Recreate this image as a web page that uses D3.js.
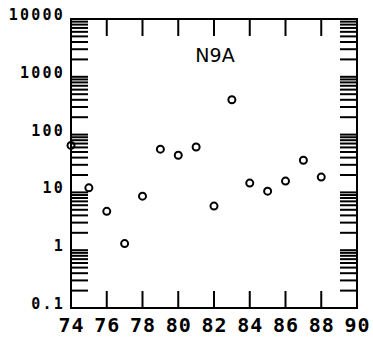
<!DOCTYPE html>
<html><head><meta charset="utf-8">
<script src="https://cdn.jsdelivr.net/npm/d3@7"></script>
<style>body{margin:0;background:#fff}svg{display:block}</style>
</head><body>
<script>
const years = [74,75,76,77,78,79,80,81,82,83,84,85,86,87,88];
const values = [65,12,4.7,1.3,8.6,56,44,61,5.8,400,14.5,10.5,15.7,36,18.4];
const xTickValues = [74,76,78,80,82,84,86,88,90];
const yTickLabels = ["0.1","1","10","100","1000","10000"];
const yTickLabelValues = [0.1,1,10,100,1000,10000];
const title = "N9A";

const W=373,H=339;
const L=71,R=357,T=19,B=308;
const svg=d3.select("body").append("svg").attr("width",W).attr("height",H);
const x=d3.scaleLinear().domain([74,90]).range([L,R]);
const y=d3.scaleLog().domain([0.1,10000]).range([B,T]);

const minor=[];
for(let e=-1;e<4;e++){for(let k=1;k<10;k++){minor.push(k*Math.pow(10,e));}}
minor.push(10000);

const tl=17;
const g=svg.append("g").attr("stroke","#000").attr("stroke-width",2).attr("fill","none");
// frame
g.append("rect").attr("x",L).attr("y",T).attr("width",R-L).attr("height",B-T);
// y ticks left and right
g.selectAll(".yl").data(minor).join("line").attr("x1",L).attr("x2",L+tl).attr("y1",d=>y(d)).attr("y2",d=>y(d));
g.selectAll(".yr").data(minor).join("line").attr("x1",R).attr("x2",R-tl).attr("y1",d=>y(d)).attr("y2",d=>y(d));
// x ticks bottom & top
const inner=xTickValues.slice(1,-1);
g.selectAll(".xb").data(inner).join("line").attr("x1",d=>x(d)).attr("x2",d=>x(d)).attr("y1",B).attr("y2",B-tl);
g.selectAll(".xt").data(inner).join("line").attr("x1",d=>x(d)).attr("x2",d=>x(d)).attr("y1",T).attr("y2",T+tl);

// y labels
svg.append("g").selectAll("text").data(yTickLabels).join("text")
 .attr("x",L-6).attr("y",(d,i)=>y(yTickLabelValues[i])+1)
 .attr("text-anchor","end")
 .attr("font-family","DejaVu Sans Mono").attr("font-weight","bold").attr("font-size",15)
 .attr("letter-spacing",2.2)
 .text(d=>d);
// x labels
svg.append("g").selectAll("text").data(xTickValues).join("text")
 .attr("x",d=>x(d)+0.5).attr("y",332)
 .attr("text-anchor","middle")
 .attr("font-family","DejaVu Sans Mono").attr("font-weight","bold").attr("font-size",20)
 .attr("letter-spacing",1)
 .text(d=>d);
// title
svg.append("text").attr("x",215).attr("y",62).attr("text-anchor","middle")
 .attr("font-family","DejaVu Sans").attr("font-size",19).text(title);
// points
svg.append("g").selectAll("circle").data(years).join("circle")
 .attr("cx",d=>x(d)).attr("cy",(d,i)=>y(values[i])).attr("r",3.5)
 .attr("fill","none").attr("stroke","#000").attr("stroke-width",2);
</script>
</body></html>
